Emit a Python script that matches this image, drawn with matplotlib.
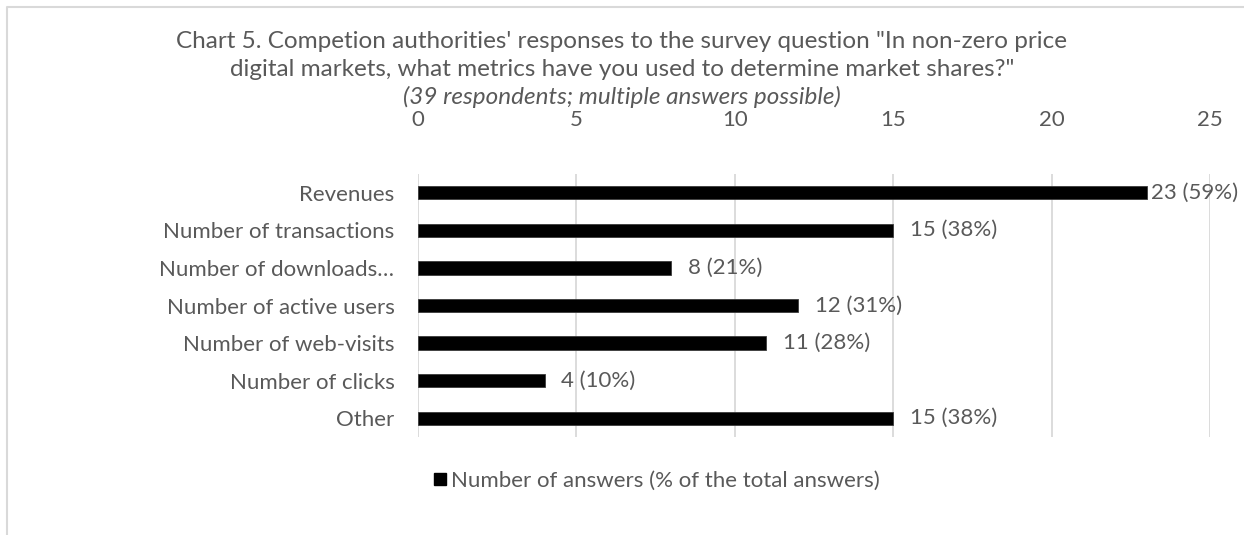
import matplotlib
matplotlib.use("Agg")
import matplotlib.pyplot as plt
from matplotlib.lines import Line2D

plt.rcParams['font.family'] = ['Lato', 'DejaVu Sans']

categories = ['Revenues', 'Number of transactions', 'Number of downloads\u2026',
              'Number of active users', 'Number of web-visits', 'Number of clicks', 'Other']
answers = [23, 15, 8, 12, 11, 4, 15]
shares = [59, 38, 21, 31, 28, 10, 38]
ticks = [0, 5, 10, 15, 20, 25]

grey = '#595959'
fs = 16

fig = plt.figure(figsize=(12.44, 5.35), dpi=100)
ax = fig.add_axes([418 / 1244, 1 - 437 / 535, (1210 - 418) / 1244, (437 - 174) / 535])

pos = list(range(len(categories)))
ax.barh(pos, answers, height=0.35, color='black', edgecolor='#3a3a3a', linewidth=0.6, zorder=3)
ax.set_ylim(len(categories) - 0.5, -0.5)
ax.set_xlim(0, 25)
ax.set_xticks(ticks)
ax.set_yticks(pos)
ax.set_yticklabels(categories)
ax.xaxis.tick_top()
ax.tick_params(axis='x', length=0, pad=32, labelsize=fs, labelcolor=grey)
ax.tick_params(axis='y', length=0, pad=17, labelsize=fs, labelcolor=grey)
ax.grid(axis='x', color='#d9d9d9', linewidth=1.3, zorder=0)
for s in ax.spines.values():
    s.set_visible(False)

for p, v, sh in zip(pos, answers, shares):
    off = 3 if v > 20 else 12
    ax.annotate(f'{v} ({sh}%)', (v, p), xytext=(off, 0), textcoords='offset points',
                va='center', ha='left', fontsize=fs, color=grey)

fig.text(0.5, 1 - 42 / 535, 'Chart 5. Competion authorities\' responses to the survey question "In non-zero price',
         ha='center', va='center', fontsize=17.5, color=grey)
fig.text(0.5, 1 - 70 / 535, 'digital markets, what metrics have you used to determine market shares?"',
         ha='center', va='center', fontsize=17.5, color=grey)
fig.text(0.5, 1 - 97 / 535, '(39 respondents; multiple answers possible)',
         ha='center', va='center', fontsize=17.5, color=grey, style='italic')

handle = Line2D([], [], marker='s', color='black', linestyle='none', markersize=8.5)
fig.legend([handle], ['Number of answers (% of the total answers)'], loc='center',
           bbox_to_anchor=(656 / 1244, 1 - 481 / 535), frameon=False, fontsize=fs,
           labelcolor=grey, handletextpad=0.15, handlelength=0.7)

# chart border (top and left visible)
fig.add_artist(Line2D([6.5 / 1244, 6.5 / 1244, 1], [0, 1 - 6.5 / 535, 1 - 6.5 / 535],
                      transform=fig.transFigure, color='#d9d9d9', linewidth=1.5))

fig.savefig('out.png', dpi=100)
